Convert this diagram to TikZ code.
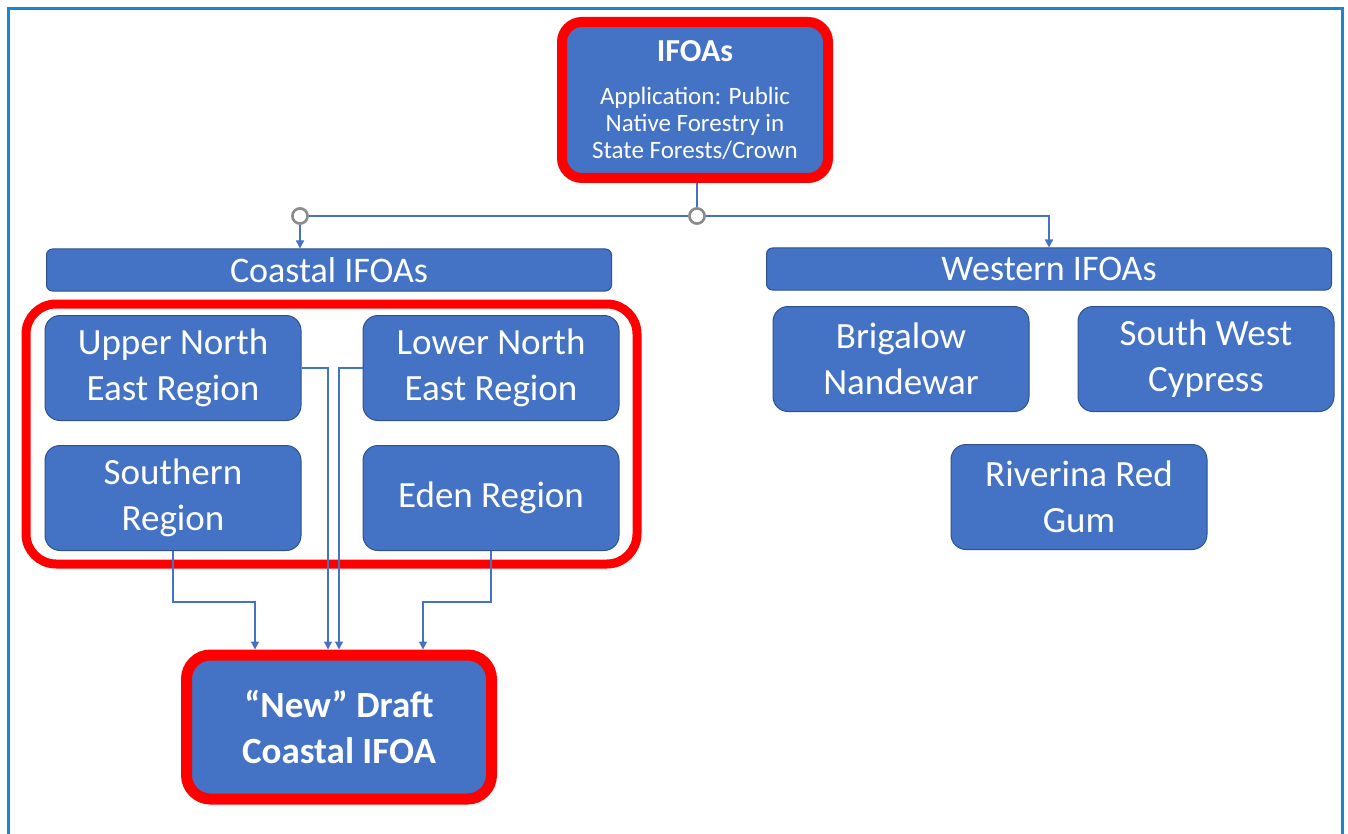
\documentclass[tikz,border=0pt]{standalone}
\usepackage{fontspec}
\setmainfont{Carlito}
\usetikzlibrary{arrows.meta,positioning}
\definecolor{boxblue}{HTML}{4472C4}
\definecolor{boxedge}{HTML}{2F528F}
\definecolor{hubgray}{HTML}{8C8C8C}
\definecolor{framecol}{HTML}{1A86D0}

\begin{document}
\begin{tikzpicture}[x=1pt, y=-1pt, >={Triangle[length=8pt,width=8pt]},
    region/.style={rectangle, rounded corners=15pt, fill=boxblue, draw=boxedge, line width=1pt,
        text=white, align=center, minimum width=256pt, minimum height=105pt,
        font=\fontsize{37}{46}\selectfont},
    groupbar/.style={rectangle, rounded corners=6pt, fill=boxblue, draw=boxedge, line width=1pt,
        text=white, minimum width=565pt, minimum height=42pt, inner sep=0pt,
        font=\fontsize{36}{40}\selectfont},
    redbox/.style={rectangle, fill=boxblue, draw=red, text=white, align=center},
    link/.style={draw=boxblue, line width=1.3pt},
    hub/.style={circle, draw=hubgray, fill=white, line width=2.5pt, minimum size=15pt, inner sep=0pt}]
    \useasboundingbox (0,0) rectangle (1348,834);
    % Frame
    \draw[framecol, line width=3pt] (8,834) -- (8,9) -- (1342,9) -- (1342,834);

    % Nodes
    \node (ifoas) [redbox, line width=10pt, rounded corners=20pt, minimum width=266pt, minimum height=156pt,
        font=\fontsize{25}{27}\selectfont] at (695,100)
        {{\bfseries\fontsize{32}{32}\selectfont IFOAs}\\[16pt] Application: Public\\Native Forestry in\\State Forests/Crown};
    \node (hubR) [hub] at (697,216) {};
    \node (hubL) [hub] at (300,216) {};

    \node (coastal) [groupbar] at (329,270) {Coastal IFOAs};
    \node (western) [groupbar] at (1049,269) {Western IFOAs};

    \draw[red, line width=9pt, rounded corners=30pt] (26,304) rectangle (637,564);

    \node (une) [region] at (173,368) {Upper North\\East Region};
    \node (lne) [region] at (491,368) {Lower North\\East Region};
    \node (south) [region] at (173,498) {Southern\\Region};
    \node (eden) [region] at (491,498) {Eden Region};

    \node (brigalow) [region] at (901,359) {Brigalow\\Nandewar};
    \node (cypress) [region] at (1206,359) {South West\\Cypress};
    \node (riverina) [region] at (1079,497) {Riverina Red\\Gum};

    \node (draft) [redbox, line width=11pt, rounded corners=24pt, minimum width=305pt, minimum height=144pt,
        font=\bfseries\fontsize{37}{46}\selectfont] at (339,727) {“New” Draft\\Coastal IFOA};

    % Connections
    \draw[link] (ifoas.south -| hubR) -- (hubR);
    \draw[link] (hubL) -- (hubR);
    \draw[link,->] (hubR) -| (western.north);
    \draw[link,->] (hubL) -- (hubL |- coastal.north);
    \node[hub] at (hubR) {};
    \node[hub] at (hubL) {};

    \draw[link,->] (une.east) -| ([xshift=-11pt]draft.north);
    \draw[link,->] (lne.west) -| (draft.north);
    \draw[link,->] (south.south) -- ++(0,51) -| ([xshift=-84pt]draft.north);
    \draw[link,->] (eden.south) -- ++(0,51) -| ([xshift=84pt]draft.north);
\end{tikzpicture}
\end{document}
